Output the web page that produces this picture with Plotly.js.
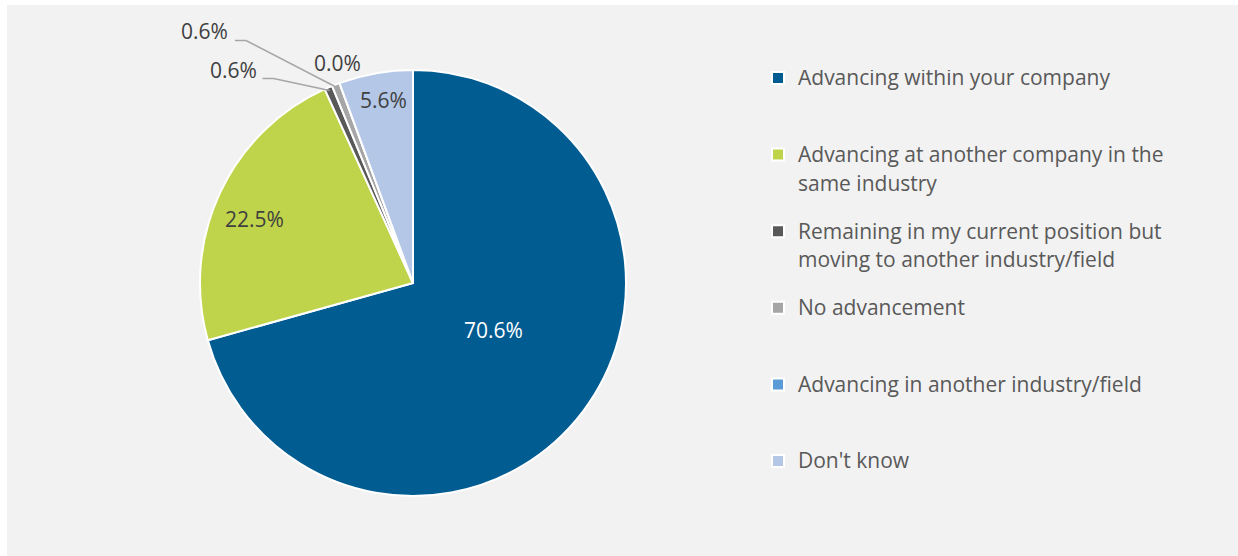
<!DOCTYPE html>
<html>
<head>
<meta charset="utf-8">
<script src="https://cdn.plot.ly/plotly-3.0.1.min.js"></script>
<style>
  html, body { margin: 0; padding: 0; background: #ffffff; }
  #chart { position: absolute; left: 7px; top: 5px; width: 1231px; height: 551px; }
</style>
</head>
<body>
<div id="chart"></div>
<script>
// ---- data ----
const categories = [
  "Advancing within your company",
  "Advancing at another company in the same industry",
  "Remaining in my current position but moving to another industry/field",
  "No advancement",
  "Advancing in another industry/field",
  "Don't know"
];
const legendLines = [
  ["Advancing within your company"],
  ["Advancing at another company in the", "same industry"],
  ["Remaining in my current position but", "moving to another industry/field"],
  ["No advancement"],
  ["Advancing in another industry/field"],
  ["Don't know"]
];
const values = [70.6, 22.5, 0.6, 0.6, 0.0, 5.6];
const colors = ["#015C92", "#BFD44A", "#595959", "#A6A6A6", "#5B9BD5", "#B4C7E7"];

// ---- geometry of the figure ----
const W = 1231, H = 551;
const cx = 406, cy = 278, R = 213;   // pie centre/radius in pixels (div coords)
const domX = [(cx - R) / W, (cx + R) / W];
const domY = [(H - cy - R) / H, (H - cy + R) / H];

// Legend entries: the legend uses a tiny base line height so that the spacing
// between entries and between wrapped lines can be tuned with blank lines.
const LEG_LINE = 3.2;                 // px per legend base line
const LEG_FONT = LEG_LINE / 1.3;      // plotly line height = 1.3 * font size
const FIRST = 2, GAP = 9, TOTAL = 23; // first text line, lines between wrapped lines, lines per entry
const legendText = legendLines.map(lines => {
  const out = new Array(TOTAL).fill("\u00a0");
  lines.forEach((l, k) => {
    out[FIRST + k * GAP] = '<span style="font-size:21px">' + l + '</span>';
  });
  return out.join("<br>");
});

const trace = {
  type: "pie",
  labels: legendText,
  values: values,
  customdata: categories,
  sort: false,
  direction: "clockwise",
  rotation: 0,
  domain: { x: domX, y: domY },
  marker: { colors: colors, line: { color: "#ffffff", width: 2 } },
  textinfo: "none",
  hovertemplate: "%{customdata}: %{value:.1f}%<extra></extra>"
};

// ---- slice geometry from the data ----
const total = values.reduce((a, b) => a + b, 0);
function midAngle(i) {
  let before = 0;
  for (let k = 0; k < i; k++) before += values[k];
  return (before + values[i] / 2) / total * 2 * Math.PI;
}
function polarPx(i, f, dDeg) {
  const a = midAngle(i) + (dDeg || 0) * Math.PI / 180;
  return [cx + f * R * Math.sin(a), cy - f * R * Math.cos(a)];
}
const toPaper = p => [p[0] / W, 1 - p[1] / H];
const fmt = v => v.toFixed(1) + "%";

const annotations = [];
const shapes = [];

// labels inside the larger slices
const inside = [
  { i: 0, f: 0.437, d: -7, color: "#ffffff" },
  { i: 1, f: 0.80, d: -3, color: "#404040" },
  { i: 5, f: 0.87, d: 1, color: "#404040" }
];
inside.forEach(o => {
  const p = toPaper(polarPx(o.i, o.f, o.d));
  annotations.push({
    xref: "paper", yref: "paper", x: p[0], y: p[1],
    text: fmt(values[o.i]), showarrow: false,
    font: { family: "Open Sans", size: 21, color: o.color },
    xanchor: "center", yanchor: "middle"
  });
});

// labels outside the tiny slices (pixel offsets from the slice rim point)
const outside = [
  { i: 2, text: [-96, -20], elbow: [-56, -12], line: true },
  { i: 3, text: [-132, -56], elbow: [-91, -47], line: true },
  { i: 4, text: [-3, -23], line: false }
];
outside.forEach(o => {
  const rim = polarPx(o.i, 0.985, 0);
  const t = toPaper([rim[0] + o.text[0], rim[1] + o.text[1]]);
  annotations.push({
    xref: "paper", yref: "paper", x: t[0], y: t[1],
    text: fmt(values[o.i]), showarrow: false,
    font: { family: "Open Sans", size: 21, color: "#404040" },
    xanchor: "center", yanchor: "middle"
  });
  if (o.line) {
    const e = toPaper([rim[0] + o.elbow[0], rim[1] + o.elbow[1]]);
    const s = toPaper([rim[0] + o.elbow[0] - 11, rim[1] + o.elbow[1]]);
    const r = toPaper(rim);
    shapes.push({
      type: "path", xref: "paper", yref: "paper",
      path: `M ${s[0]} ${s[1]} L ${e[0]} ${e[1]} L ${r[0]} ${r[1]}`,
      line: { color: "#A6A6A6", width: 1.5 }
    });
  }
});

const layout = {
  width: W, height: H,
  margin: { l: 0, r: 0, t: 0, b: 0 },
  paper_bgcolor: "#F2F2F2",
  plot_bgcolor: "#F2F2F2",
  font: { family: "Open Sans", color: "#595959" },
  showlegend: true,
  legend: {
    x: 751 / W, xanchor: "left",
    y: 0.8822, yanchor: "top",
    valign: "top",
    font: { family: "Open Sans", size: LEG_FONT, color: "#595959" },
    bgcolor: "rgba(0,0,0,0)"
  },
  annotations: annotations,
  shapes: shapes
};

Plotly.newPlot("chart", [trace], layout, { displayModeBar: false, staticPlot: true });
</script>
</body>
</html>
